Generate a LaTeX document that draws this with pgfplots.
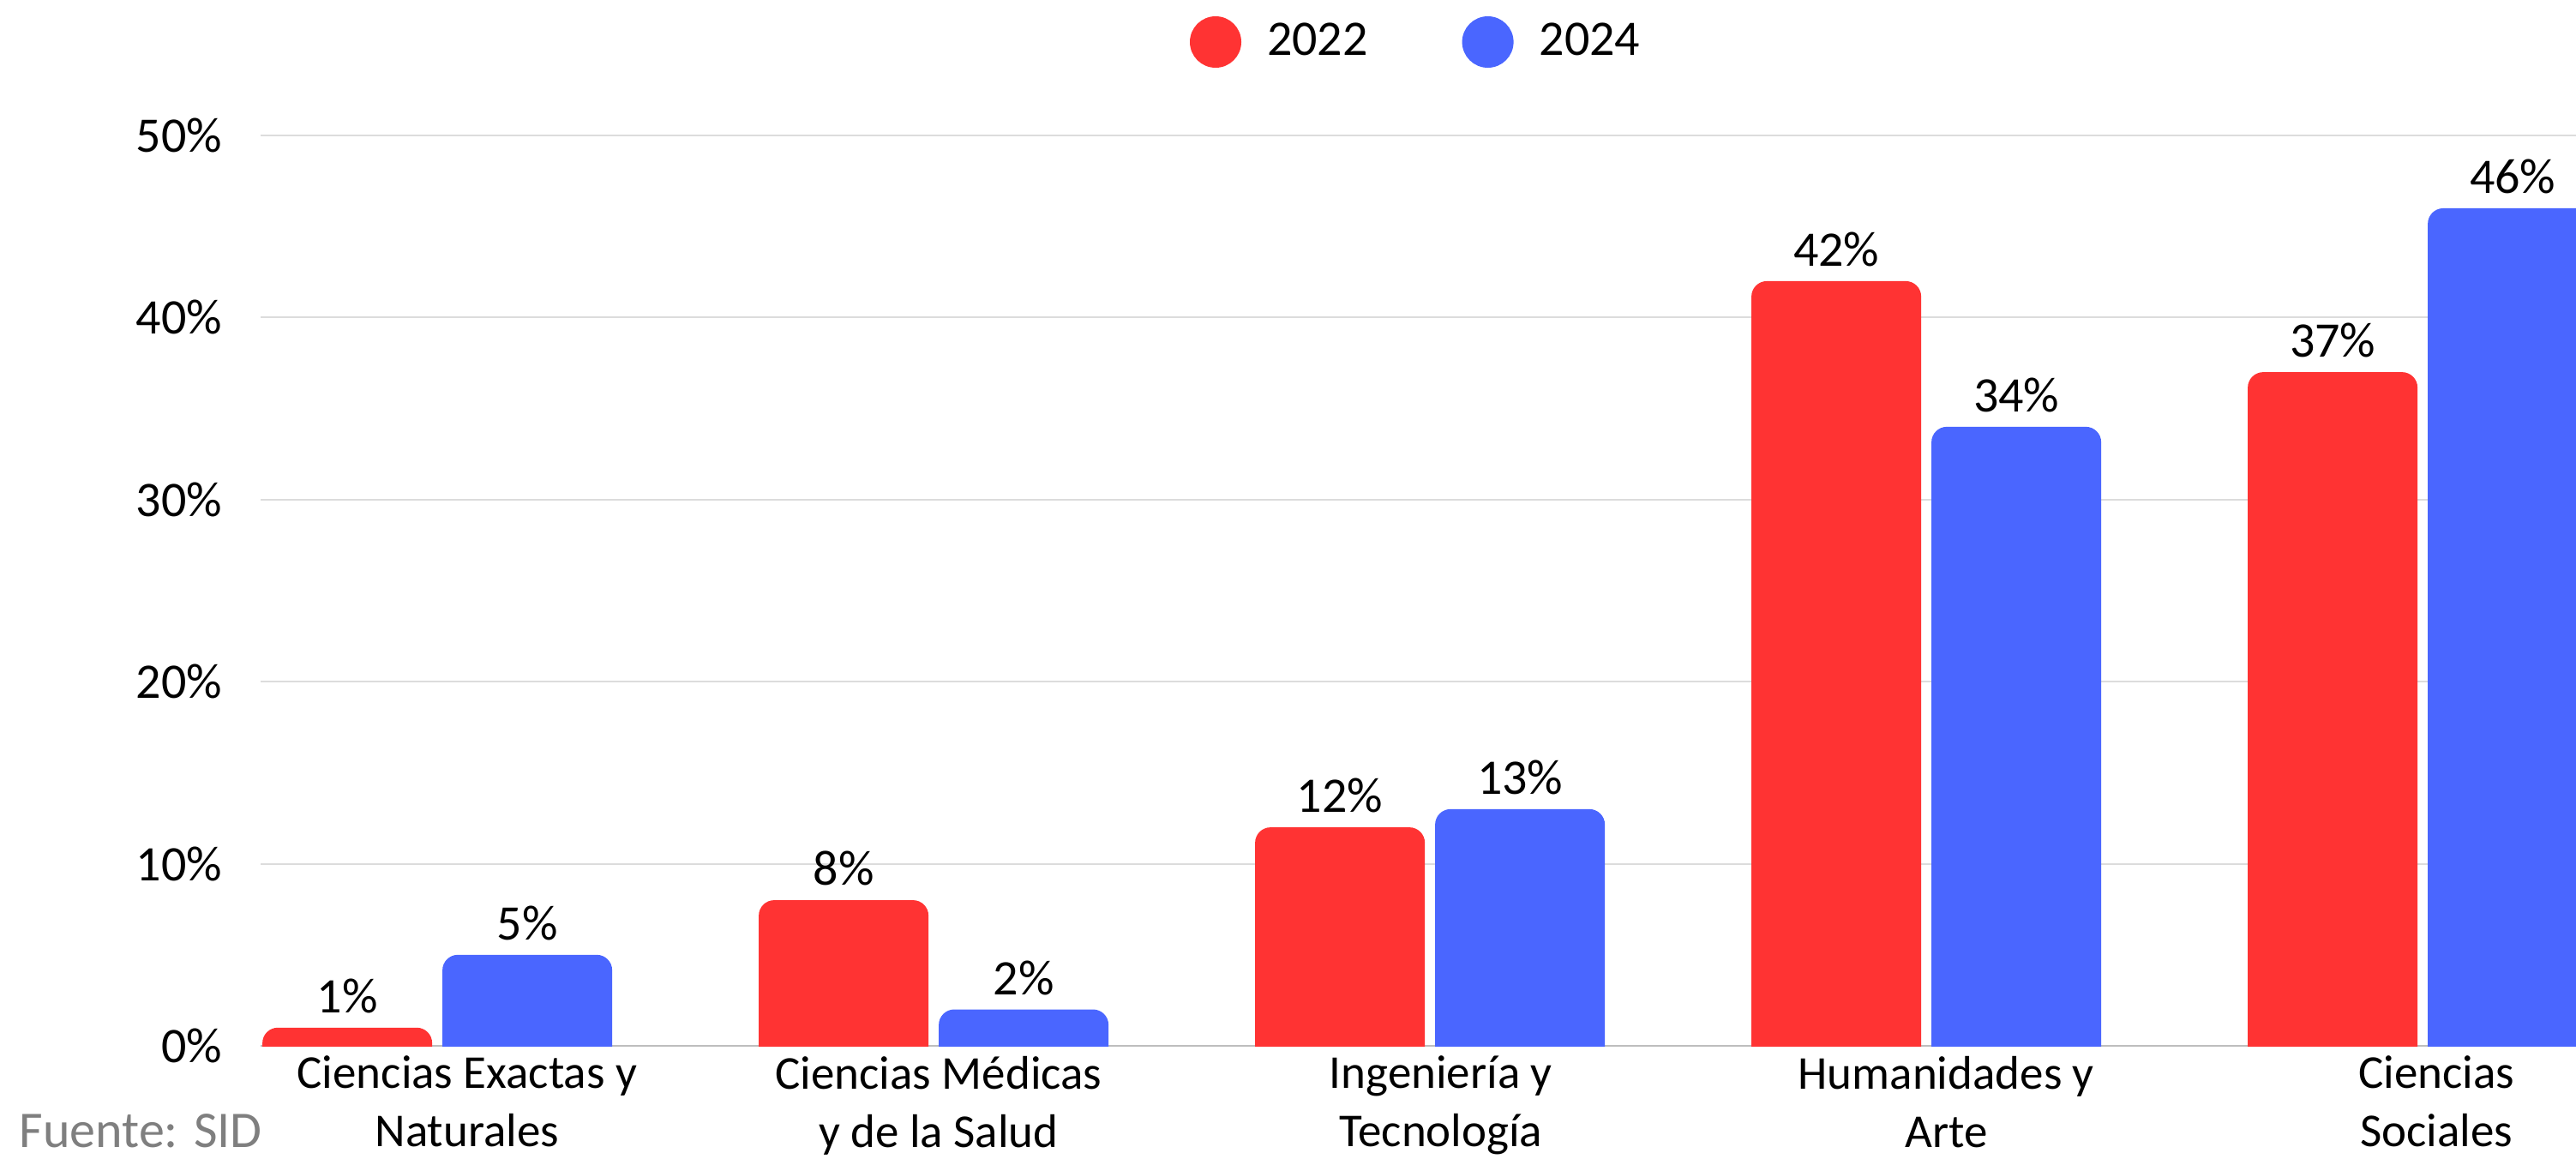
\documentclass[border=0pt]{standalone}
\usepackage{pgfplots}
\pgfplotsset{compat=1.18}
\usepackage{pgfplotstable}
\usepackage{fontspec}
\setmainfont{Carlito}
\definecolor{cred}{RGB}{255,51,51}
\definecolor{cblue}{RGB}{74,102,255}
\definecolor{gridc}{RGB}{220,220,220}
\definecolor{basec}{RGB}{190,190,190}
\definecolor{fuentec}{RGB}{127,127,127}

\pgfplotstableread{
x v
0 1
1 8
2 12
3 42
4 37
}\dataA
\pgfplotstableread{
x v
0 5
1 2
2 13
3 34
4 46
}\dataB

\begin{document}
\begin{tikzpicture}[font=\fontsize{14.5pt}{17.5pt}\selectfont]
% background axis: grid, tick labels, legend
\begin{axis}[
  scale only axis,
  width=675.25pt, height=265.5pt,
  xmin=-0.356, xmax=4.309,
  ymin=0, ymax=50,
  axis line style={draw=none},
  major tick length=0pt,
  ytick={10,20,30,40,50},
  yticklabels={10\%,20\%,30\%,40\%,50\%},
  extra y ticks={0},
  extra y tick labels={0\%},
  extra y tick style={grid style={draw=basec, line width=0.6pt}},
  yticklabel style={anchor=east, inner sep=0pt, xshift=-11pt},
  ymajorgrids,
  grid style={draw=gridc, line width=0.5pt},
  xtick={0.06,1.01,2.022,3.04,4.028},
  xticklabels={{Ciencias Exactas y\\Naturales},{Ciencias Médicas\\y de la Salud},{Ingeniería y\\Tecnología},{Humanidades y\\Arte},{Ciencias\\Sociales}},
  xticklabel style={anchor=north, inner sep=0pt, align=center, font=\fontsize{13.75pt}{17pt}\selectfont, execute at begin node={\rule{0pt}{11pt}}, yshift=-2.75pt},
  legend style={draw=none, fill=none, inner sep=0pt, outer sep=0pt, legend columns=-1,
    at={(0.40133,1.10264)}, anchor=west, cells={anchor=west}, nodes={inner sep=0pt},
    /tikz/every odd column/.append style={column sep=7.5pt},
    /tikz/every even column/.append style={column sep=27.5pt}},
  legend image code/.code={\fill[#1] (7.5pt,0pt) circle (7.5pt);},
]
\addlegendimage{fill=cred, draw=none}
\addlegendimage{fill=cblue, draw=none}
\legend{2022,2024}
\end{axis}
% bar axis: its box starts 2 units below the visible baseline, so the
% rounded bottom corners of the bars are clipped away
\begin{scope}
\clip (0pt,0pt) rectangle (675.25pt,305pt);
\begin{axis}[
  at={(0pt,-10.62pt)}, anchor=south west,
  scale only axis,
  width=675.25pt, height=276.12pt,
  xmin=-0.356, xmax=4.309,
  ymin=0, ymax=52,
  hide axis,
  ybar=3pt, bar width=49.5pt,
  point meta=explicit,
  /pgf/number format/assume math mode=true,
  nodes near coords={\pgfmathprintnumber[fixed,precision=0]{\pgfplotspointmeta}\%},
  nodes near coords style={anchor=south, inner sep=0pt, yshift=4pt, text=black},
]
\addplot[fill=cred, draw=none, rounded corners=4.5pt] table[x=x, y expr=\thisrow{v}+2, meta=v] {\dataA};
\addplot[fill=cblue, draw=none, rounded corners=4.5pt] table[x=x, y expr=\thisrow{v}+2, meta=v] {\dataB};
\end{axis}
\end{scope}
\node[anchor=base west, inner sep=0pt, text=fuentec, font=\fontsize{15pt}{18pt}\selectfont] at (-70.5pt,-29.5pt) {Fuente: SID};
\pgfresetboundingbox
\useasboundingbox (-76pt,-32.75pt) rectangle (675.25pt,305pt);
\end{tikzpicture}
\end{document}
